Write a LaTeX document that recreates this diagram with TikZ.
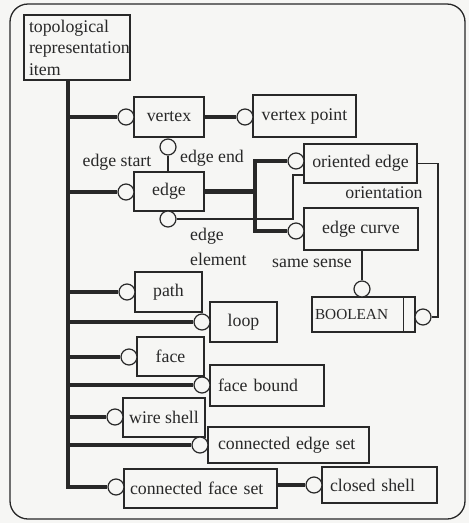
\documentclass[tikz,border=0pt]{standalone}
\usepackage{fontspec}
\setmainfont{LiberationSerif}[Extension=.ttf, UprightFont=*-Regular, BoldFont=*-Bold]
\definecolor{paper}{RGB}{246,246,244}
\definecolor{ink}{RGB}{40,40,40}
\begin{document}
\begin{tikzpicture}[x=1pt,y=-1pt,
  txt/.style={font=\rmfamily\fontsize{17.8}{21.5}\selectfont},
  box/.style={draw=ink, line width=1.2pt, inner sep=0pt, txt, text=ink},
  lbox/.style={box, align=left},
  circ/.style={draw=ink, circle, line width=1.2pt, minimum size=16pt, inner sep=0pt, fill=paper},
  heavy/.style={draw=ink, line width=4.5pt},
  light/.style={draw=ink, line width=1.3pt},
  lbl/.style={txt, inner sep=0pt, text=ink}]
\fill[paper] (0,0) rectangle (469,523);
\draw[ink, line width=1.3pt, rounded corners=18pt] (10,4) rectangle (465,519);

% boxes
\node[lbox, minimum height=65, text width=96, inner xsep=5] (top) at (77,47.5) {topological\\representation\\item};
\node[box, minimum width=70, minimum height=40] (vertex) at (169,117) {vertex};
\node[box, minimum width=103, minimum height=42] (vpoint) at (304.5,116) {vertex point};
\node[box, minimum width=70, minimum height=39] (edge) at (169,191.5) {edge};
\node[box, minimum width=113, minimum height=39] (oedge) at (360.5,163.5) {oriented edge};
\node[box, minimum width=114, minimum height=42] (ecurve) at (361,229) {edge curve};
\node[lbox, minimum height=35, text width=97, inner xsep=3, font=\rmfamily\fontsize{15.3}{18}\selectfont] (bool) at (363.5,314.5) {BOOLEAN};
\draw[ink, line width=1.2pt] ([xshift=-12pt]bool.north east) -- ([xshift=-12pt]bool.south east);
\node[box, minimum width=67, minimum height=40] (path) at (168.5,292) {path};
\node[box, minimum width=67, minimum height=40] (loop) at (243.5,322) {loop};
\node[box, minimum width=67, minimum height=39] (face) at (170.5,356.5) {face};
\node[lbox, minimum height=41, text width=98, inner xsep=8] (fbound) at (267,385.5) {face bound};
\node[box, minimum width=82, minimum height=39] (wshell) at (164,417.5) {wire shell};
\node[lbox, minimum height=36, text width=141, inner xsep=10] (ces) at (288.5,445) {connected edge set};
\node[lbox, minimum height=39, text width=141, inner xsep=6] (cfs) at (200.5,488.5) {connected face set};
\node[lbox, minimum height=36, text width=99, inner xsep=8] (cshell) at (379.5,485) {closed shell};

% circles
\node[circ] (cv) at (126,117) {};
\node[circ] (cvp) at (245,117) {};
\node[circ] (ce) at (126,192) {};
\node[circ] (cvs) at (168,147) {};
\node[circ] (cee) at (168,219) {};
\node[circ] (coe) at (296,161) {};
\node[circ] (cec) at (296,231) {};
\node[circ] (css) at (362,289) {};
\node[circ] (cor) at (423,317) {};
\node[circ] (cpath) at (127,292) {};
\node[circ] (cloop) at (202,322) {};
\node[circ] (cface) at (129,357) {};
\node[circ] (cfb) at (202,385) {};
\node[circ] (cws) at (115,417) {};
\node[circ] (cces) at (200,445) {};
\node[circ] (ccfs) at (116,487) {};
\node[circ] (ccs) at (314,485) {};

% trunk and branches
\coordinate (tr) at (68,0);
\draw[heavy, line join=miter] (top.south -| tr) -- (tr |- ccfs) -- (ccfs.west);
\foreach \c in {cv,ce,cpath,cloop,cface,cfb,cws,cces}
  \draw[heavy] (tr |- \c) -- (\c.west);
\draw[heavy] (vertex.east |- cvp) -- (cvp.west);
\coordinate (j) at (255,0);
\draw[heavy] (edge.east) -- (edge.east -| j);
\draw[heavy, line join=miter] (coe.west) -| (j |- cec) -- (cec.west);
\draw[heavy] (cfs.east |- ccs) -- (ccs.west);

% thin connectors
\draw[light] (cvs.south) -- (cvs.south |- edge.north);
\draw[light] (cee.east) -- (293,219) -- (293,175) -- (oedge.west |- 293,175);
\draw[light] (css.north |- ecurve.south) -- (css.north);
\draw[light] (oedge.east) -| (438,317) -- (cor.east);

% labels
\node[lbl] (lstart) at (117,162) {edge start};
\node[lbl] (lend) at (212,158) {edge end};
\node[lbl, anchor=mid west] (ledge) at (190,238) {edge};
\node[lbl, anchor=mid west] (lelem) at (190,263) {element};
\node[lbl] (lorient) at (384,193) {orientation};
\node[lbl] (lsame) at (312,263) {same sense};
\end{tikzpicture}
\end{document}
